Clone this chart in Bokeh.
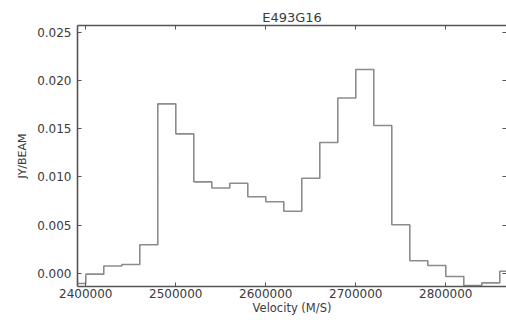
from bokeh.plotting import figure
from bokeh.models import Range1d, LinearAxis, SingleIntervalTicker, FixedTicker, NumeralTickFormatter, BasicTickFormatter
from bokeh.embed import file_html
from bokeh.resources import INLINE

# channel left edges (m/s) and flux per channel (Jy/beam)
velocity = [2380000, 2400000, 2420000, 2440000, 2460000, 2480000, 2500000, 2520000,
            2540000, 2560000, 2580000, 2600000, 2620000, 2640000, 2660000, 2680000,
            2700000, 2720000, 2740000, 2760000, 2780000, 2800000, 2820000, 2840000,
            2860000, 2880000]
flux = [-0.00107, -0.0001, 0.00075, 0.0009, 0.00295, 0.01757, 0.01446, 0.00948,
        0.00884, 0.00934, 0.00793, 0.00741, 0.00643, 0.00985, 0.01356, 0.01817,
        0.02113, 0.01532, 0.00502, 0.00129, 0.0008, -0.00034, -0.00128, -0.0010,
        0.00021, 0.00021]

x_ticks = [2400000, 2500000, 2600000, 2700000, 2800000]
y_ticks = [0.0, 0.005, 0.010, 0.015, 0.020, 0.025]

FONT = "DejaVu Sans"
AX = "#555555"
TXT = "#3a3a3a"

p = figure(width=506, height=320, output_backend="svg", toolbar_location=None,
           x_range=Range1d(2390780, 2867450), y_range=Range1d(-0.00138, 0.0257),
           title="E493G16", min_border_left=77, min_border_right=0,
           min_border_top=25, min_border_bottom=34)
p.outline_line_color = None
p.grid.visible = False
p.background_fill_color = "white"
p.border_fill_color = "white"

p.title.text_font = FONT
p.title.text_font_size = "13px"
p.title.text_font_style = "normal"
p.title.text_color = TXT
p.title.align = "center"
p.title.standoff = 1

p.step(velocity, flux, mode="after", line_color="#8c8c8c", line_width=1.6)

def style(ax):
    ax.axis_line_color = AX
    ax.axis_line_width = 1.6
    ax.major_tick_line_color = AX
    ax.major_tick_in = 4
    ax.major_tick_out = 0
    ax.minor_tick_line_color = None
    ax.major_label_text_font = FONT
    ax.major_label_text_color = TXT
    ax.axis_label_text_font = FONT
    ax.axis_label_text_font_style = "normal"
    ax.axis_label_text_color = TXT

def tick_only(ax):
    # ticks drawn as minor ticks so that no labels are produced
    ax.axis_line_color = AX
    ax.axis_line_width = 1.6
    ax.major_tick_line_color = None
    ax.minor_tick_line_color = AX
    ax.minor_tick_in = 4
    ax.minor_tick_out = 0
    ax.major_label_standoff = 0

xa = p.xaxis[0]
xa.ticker = FixedTicker(ticks=x_ticks)
xa.formatter = BasicTickFormatter(use_scientific=False)
style(xa)
xa.major_label_text_font_size = "12px"
xa.major_label_standoff = 2
xa.axis_label = "Velocity (M/S)"
xa.axis_label_text_font_size = "11.5px"
xa.axis_label_standoff = 0

ya = p.yaxis[0]
ya.ticker = FixedTicker(ticks=y_ticks)
ya.formatter = NumeralTickFormatter(format="0.000")
style(ya)
ya.major_label_text_font_size = "12px"
ya.major_label_standoff = 6
ya.axis_label = "JY/BEAM"
ya.axis_label_text_font_size = "11px"
ya.axis_label_standoff = 5

top = LinearAxis(ticker=FixedTicker(ticks=[], minor_ticks=x_ticks))
tick_only(top)
p.add_layout(top, "above")

right = LinearAxis(ticker=FixedTicker(ticks=[], minor_ticks=y_ticks))
tick_only(right)
right.axis_line_color = None
p.add_layout(right, "right")

open("out.html", "w").write(file_html(p, INLINE))
